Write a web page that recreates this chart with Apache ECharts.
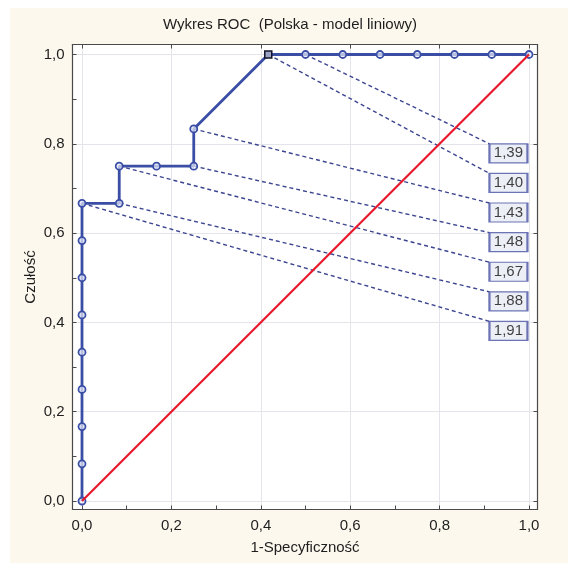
<!DOCTYPE html>
<html>
<head>
<meta charset="utf-8">
<script src="https://cdn.jsdelivr.net/npm/echarts@6/dist/echarts.min.js"></script>
<style>
  html, body { margin: 0; padding: 0; background: #ffffff; }
  #chart { position: absolute; left: 10px; top: 8px; width: 558px; height: 555px; background: #fcf8ee; }
</style>
</head>
<body>
<div id="chart"></div>
<script>
// ROC curve points: 1 - specificity (x) and sensitivity (y)
const rocX = [0, 0, 0, 0, 0, 0, 0, 0, 0, 0.0833, 0.0833, 0.1667, 0.25, 0.25, 0.4167, 0.5, 0.5833, 0.6667, 0.75, 0.8333, 0.9167, 1];
const rocY = [0, 0.0833, 0.1667, 0.25, 0.3333, 0.4167, 0.5, 0.5833, 0.6667, 0.6667, 0.75, 0.75, 0.75, 0.8333, 1, 1, 1, 1, 1, 1, 1, 1];
// index of the point drawn as a square (optimal cut-off)
const cutoffIndex = 14;

// reference diagonal
const diagX = [0, 1];
const diagY = [0, 1];

// cut-off thresholds and the curve points they belong to
const thresholdLabels = ['1,39', '1,40', '1,43', '1,48', '1,67', '1,88', '1,91'];
const thresholdX = [0.5, 0.4167, 0.25, 0.25, 0.0833, 0.0833, 0];
const thresholdY = [1, 1, 0.8333, 0.75, 0.75, 0.6667, 0.6667];

// axis ticks
const majorTicks = [0, 0.2, 0.4, 0.6, 0.8, 1.0];
const allTicks = [0, 0.1, 0.2, 0.3, 0.4, 0.5, 0.6, 0.7, 0.8, 0.9, 1.0];

// layout of the threshold boxes (in axis units)
const boxCenterX = 0.954;
const boxLeftX = 0.9116;
const boxFirstY = 0.7787;
const boxStepY = 0.0663;
const boxHalfH = 0.0213;

const FONT = 'Arial, "Liberation Sans", sans-serif';
const TEXT = '#1e1e1e';
const FRAME = '#4a4a4a';
const BLUE = '#3a4ea6';
const fmt = v => v.toFixed(1).replace('.', ',');

const curveData = rocX.map((x, i) => {
  if (i === cutoffIndex) {
    return { value: [x, rocY[i]], symbol: 'rect', symbolSize: 7,
             itemStyle: { color: '#9aa2c6', borderColor: '#141428', borderWidth: 1.5 } };
  }
  return [x, rocY[i]];
});

const connectorData = thresholdLabels.map((t, i) => ({
  coords: [[thresholdX[i], thresholdY[i]], [boxLeftX, boxFirstY - i * boxStepY + boxHalfH]]
}));
const boxData = thresholdLabels.map((t, i) => [boxCenterX, boxFirstY - i * boxStepY, t]);

const xMin = -0.02125, xMax = 1.019;
const yMin = -0.019, yMax = 1.0224;

const chart = echarts.init(document.getElementById('chart'), null, { renderer: 'canvas' });
chart.setOption({
  animation: false,
  backgroundColor: '#fcf8ee',
  title: {
    text: 'Wykres ROC  (Polska - model liniowy)',
    left: 275, top: 4, textAlign: 'center',
    textStyle: { fontFamily: FONT, fontSize: 15, fontWeight: 'normal', color: TEXT }
  },
  grid: { left: 62.5, top: 36.5, width: 465, height: 465, show: true, backgroundColor: '#ffffff', borderWidth: 0 },
  xAxis: [
    {
      type: 'value', position: 'bottom', min: xMin, max: xMax,
      name: '1-Specyficzność', nameLocation: 'middle', nameGap: 31, nameMoveOverlap: false,
      nameTextStyle: { fontFamily: FONT, fontSize: 15, color: TEXT },
      axisLine: { show: true, onZero: false, lineStyle: { color: FRAME, width: 1.2 } },
      axisTick: { show: true, inside: true, length: 4, customValues: allTicks, lineStyle: { color: FRAME } },
      axisLabel: { customValues: majorTicks, formatter: fmt, margin: 9, fontFamily: FONT, fontSize: 15, color: TEXT },
      splitLine: { show: false }
    },
    {
      type: 'value', position: 'top', min: xMin, max: xMax,
      axisLine: { show: true, onZero: false, lineStyle: { color: FRAME, width: 1.2 } },
      axisTick: { show: true, inside: true, length: 4, customValues: majorTicks, lineStyle: { color: FRAME } },
      axisLabel: { show: false },
      splitLine: { show: true, lineStyle: { color: '#e4e4eb', width: 1 } }
    }
  ],
  yAxis: [
    {
      type: 'value', position: 'left', min: yMin, max: yMax,
      name: 'Czułość', nameLocation: 'middle', nameGap: 34, nameRotate: 90, nameMoveOverlap: false,
      nameTextStyle: { fontFamily: FONT, fontSize: 15, color: TEXT },
      axisLine: { show: true, onZero: false, lineStyle: { color: FRAME, width: 1.2 } },
      axisTick: { show: true, inside: true, length: 4, customValues: allTicks, lineStyle: { color: FRAME } },
      axisLabel: { customValues: majorTicks, formatter: fmt, margin: 8, fontFamily: FONT, fontSize: 15, color: TEXT },
      splitLine: { show: false }
    },
    {
      type: 'value', position: 'right', min: yMin, max: yMax,
      axisLine: { show: true, onZero: false, lineStyle: { color: FRAME, width: 1.2 } },
      axisTick: { show: true, inside: true, length: 4, customValues: majorTicks, lineStyle: { color: FRAME } },
      axisLabel: { show: false },
      splitLine: { show: true, lineStyle: { color: '#e4e4eb', width: 1 } }
    }
  ],
  series: [
    {
      name: 'connectors', type: 'lines', coordinateSystem: 'cartesian2d',
      xAxisIndex: 0, yAxisIndex: 0, z: 2,
      lineStyle: { color: '#3c4590', width: 1.4, type: [4, 3], opacity: 1 },
      data: connectorData
    },
    {
      name: 'ROC', type: 'line', xAxisIndex: 0, yAxisIndex: 0, z: 3,
      data: curveData,
      symbol: 'circle', symbolSize: 7, showAllSymbol: true,
      itemStyle: { color: 'rgba(235,238,250,0.7)', borderColor: BLUE, borderWidth: 1.8 },
      lineStyle: { color: BLUE, width: 2.8 }
    },
    {
      name: 'diagonal', type: 'line', xAxisIndex: 0, yAxisIndex: 0, z: 4,
      data: diagX.map((x, i) => [x, diagY[i]]),
      showSymbol: false, symbol: 'none',
      lineStyle: { color: '#e8192c', width: 2.2 }
    },
    {
      name: 'thresholds', type: 'scatter', xAxisIndex: 0, yAxisIndex: 0, z: 5,
      data: boxData,
      symbol: 'rect', symbolSize: [38, 19],
      itemStyle: { color: '#e9ebf4', borderColor: '#4853a3', borderWidth: 1.6 },
      label: {
        show: true, position: 'inside', formatter: p => p.data[2],
        fontFamily: FONT, fontSize: 15, color: '#111'
      }
    }
  ]
});
</script>
</body>
</html>
